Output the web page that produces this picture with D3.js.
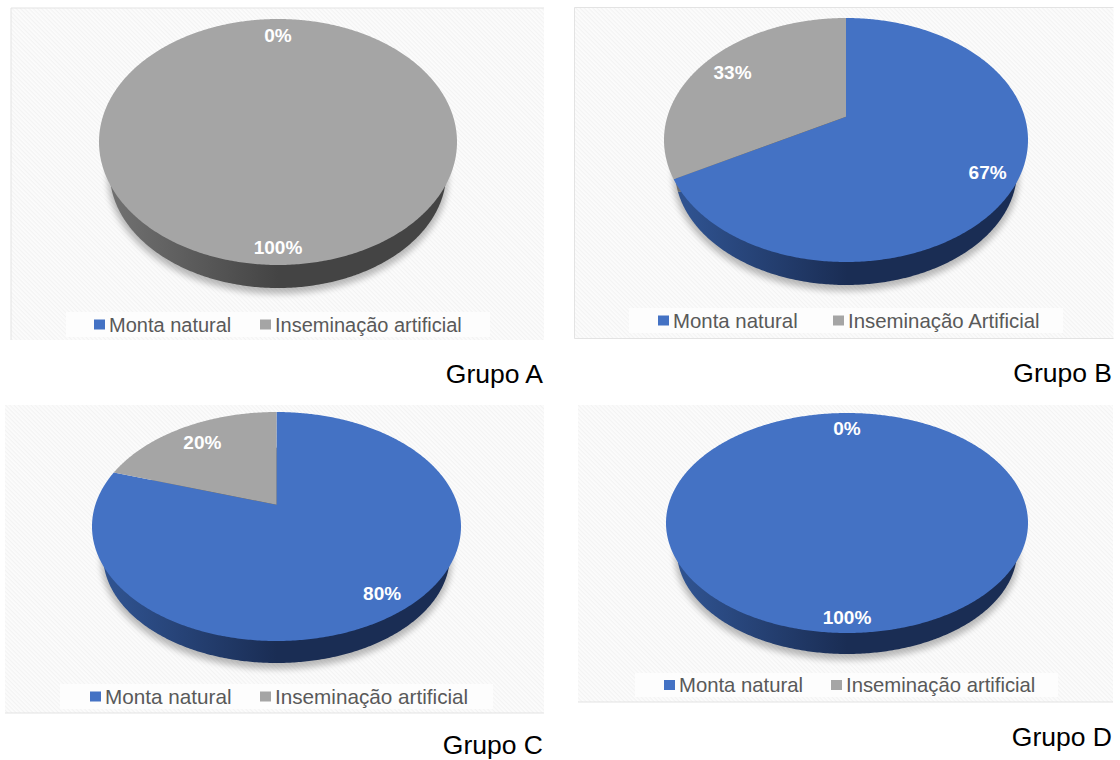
<!DOCTYPE html>
<html>
<head>
<meta charset="utf-8">
<script src="https://cdn.jsdelivr.net/npm/d3@7"></script>
<style>
  html, body { margin: 0; background: #fff; }
  svg { display: block; }
  text { font-family: "Liberation Sans", Arial, sans-serif; }
</style>
</head>
<body>
<svg id="chart" width="1120" height="760"></svg>
<script>
// Reproductive management by group: share of natural mating vs. artificial insemination.
const groups = ["Grupo A", "Grupo B", "Grupo C", "Grupo D"];
const seriesNames = ["Monta natural", "Inseminação artificial"];
const seriesNamesB = ["Monta natural", "Inseminação Artificial"];
const montaNatural = [0, 67, 80, 100];
const inseminacao = [100, 33, 20, 0];

// Drawing geometry of each panel, kept apart from the values.
const panels = [
  { x: 11, y: 8, w: 533, h: 332, edges: "tl", cx: 278, cy: 142, rx: 179, ry: 123, depth: 23,
    legend: { x: 66, y: 312, w: 424, h: 25, s1: 94, s2: 260, font: 20 }, title: { x: 543, y: 383 } },
  { x: 574.5, y: 7.5, w: 539, h: 331, edges: "tlb", cx: 846, cy: 140, rx: 182, ry: 122, depth: 23,
    legend: { x: 629, y: 308, w: 434, h: 25, s1: 658, s2: 833, font: 20.4 }, title: { x: 1112, y: 382 } },
  { x: 5, y: 405, w: 539, h: 308, edges: "b", cx: 276.5, cy: 526.5, rx: 184.5, ry: 114.5, depth: 22,
    legend: { x: 60, y: 684, w: 433, h: 25, s1: 90, s2: 260, font: 20.7 }, title: { x: 543, y: 754 } },
  { x: 578, y: 405, w: 535, h: 297, edges: "b", cx: 847, cy: 523, rx: 181, ry: 110, depth: 21,
    legend: { x: 635, y: 673, w: 423, h: 24, s1: 664, s2: 831, font: 20.3 }, title: { x: 1112, y: 746 } }
];

const svg = d3.select("#chart");
const defs = svg.append("defs");

// Faint diagonal hatch behind each chart.
const hatch = defs.append("pattern")
  .attr("id", "hatch").attr("width", 3).attr("height", 3)
  .attr("patternUnits", "userSpaceOnUse").attr("patternTransform", "rotate(45)");
hatch.append("rect").attr("width", 3).attr("height", 3).attr("fill", "#fcfcfc");
hatch.append("rect").attr("width", 3).attr("height", 1.2).attr("fill", "#f3f3f3");

const shadow = defs.append("filter").attr("id", "pieShadow")
  .attr("x", "-10%").attr("y", "-10%").attr("width", "120%").attr("height", "125%");
shadow.append("feGaussianBlur").attr("stdDeviation", 3.2);

const color = d3.scaleOrdinal().domain(seriesNames).range(["#4472c4", "#a5a5a5"]);

// Side wall shading: lighter on the left, settling to a dark tone.
const wallStops = { "Monta natural": ["#2f528f", "#1a2d54"], "Inseminação artificial": ["#6f6f6f", "#444444"] };
seriesNames.forEach((name, i) => {
  const g = defs.append("linearGradient").attr("id", "wall" + i)
    .attr("x1", 0).attr("x2", 1).attr("y1", 0).attr("y2", 0);
  g.append("stop").attr("offset", "0.03").attr("stop-color", wallStops[name][0]);
  g.append("stop").attr("offset", "0.5").attr("stop-color", wallStops[name][1]);
  g.append("stop").attr("offset", "1").attr("stop-color", wallStops[name][1]);
});

const pieLayout = d3.pie().sort(null).value(d => d.value);
const line = d3.line();
const tilt = 0.19; // perspective strength of the disc

// Projects a point of the unit disc (angle clockwise from the top) onto a tilted plane.
function projector(cx, cy, rx, ry) {
  const sx = rx * Math.sqrt(1 - tilt * tilt);
  const sy = ry * (1 - tilt * tilt);
  const apexY = cy - tilt * ry;
  return (angle, radius) => {
    const u = radius * Math.sin(angle);
    const v = -radius * Math.cos(angle);
    const w = 1 - tilt * v;
    return [cx + sx * u / w, apexY + sy * v / w];
  };
}

function sectorPath(project, a0, a1) {
  const steps = Math.max(2, Math.ceil((a1 - a0) / 0.01));
  const rim = d3.range(steps + 1).map(i => project(a0 + (a1 - a0) * i / steps, 1));
  return line([project(a0, 0), ...rim]) + "Z";
}

// The narrower lower rim needs its seams pushed away from the front,
// so a seam drops straight down from the same seam on the top face.
const wallAngle = a => Math.max(0, Math.min(2 * Math.PI, Math.PI + (a - Math.PI) * 1.12));

// Label distance from the apex, relative to the rim: labels sit closer in at the back.
function labelRadius(d) {
  if (d.value === 100) return 0.9;
  if (d.value === 0) return 0.81;
  return 0.82 - 0.05 * Math.cos((d.startAngle + d.endAngle) / 2);
}

panels.forEach((p, i) => {
  const names = i === 1 ? seriesNamesB : seriesNames;
  const rows = seriesNames.map((name, k) => ({
    name, value: (k === 0 ? montaNatural : inseminacao)[i]
  }));
  const slices = pieLayout(rows);
  const g = svg.append("g").attr("class", "panel");

  g.append("rect").attr("x", p.x).attr("y", p.y).attr("width", p.w).attr("height", p.h)
    .attr("fill", "url(#hatch)");
  const edge = (x1, y1, x2, y2) => g.append("line")
    .attr("x1", x1).attr("y1", y1).attr("x2", x2).attr("y2", y2)
    .attr("stroke", "#e3e3e3").attr("stroke-width", 1);
  if (p.edges.includes("t")) edge(p.x, p.y, p.x + p.w, p.y);
  if (p.edges.includes("l")) edge(p.x, p.y, p.x, p.y + p.h);
  if (p.edges.includes("b")) edge(p.x, p.y + p.h, p.x + p.w, p.y + p.h);

  // The lower rim is slightly narrower than the top face.
  const shrink = 0.94;
  const lowerRy = p.ry * shrink;
  const lowerCy = p.cy + p.ry + p.depth - lowerRy;
  const top = projector(p.cx, p.cy, p.rx, p.ry);
  const bottom = projector(p.cx, lowerCy, p.rx * shrink, lowerRy);

  // Soft shadow cast around the disc.
  g.append("ellipse").attr("cx", p.cx).attr("cy", lowerCy + 5)
    .attr("rx", p.rx * shrink + 2).attr("ry", lowerRy + 1)
    .attr("fill", "#000").attr("opacity", 0.26).attr("filter", "url(#pieShadow)");

  g.selectAll("path.wall").data(slices.filter(d => d.value > 0)).join("path")
    .attr("class", "wall")
    .attr("d", d => sectorPath(bottom, wallAngle(d.startAngle), wallAngle(d.endAngle)))
    .attr("fill", d => `url(#wall${seriesNames.indexOf(d.data.name)})`);

  g.selectAll("path.face").data(slices.filter(d => d.value > 0)).join("path")
    .attr("class", "face")
    .attr("d", d => sectorPath(top, d.startAngle, d.endAngle))
    .attr("fill", d => color(d.data.name));

  g.selectAll("text.value").data(slices).join("text")
    .attr("class", "value")
    .attr("transform", d => {
      const mid = (d.startAngle + d.endAngle) / 2;
      return `translate(${top(mid, labelRadius(d))})`;
    })
    .attr("text-anchor", "middle").attr("dy", "0.36em")
    .attr("font-size", 19).attr("font-weight", 700).attr("fill", "#fff")
    .text(d => d.value + "%");

  // Legend strip
  const l = p.legend;
  g.append("rect").attr("x", l.x).attr("y", l.y).attr("width", l.w).attr("height", l.h).attr("fill", "#fdfdfd");
  names.forEach((name, k) => {
    const sx = k === 0 ? l.s1 : l.s2;
    g.append("rect").attr("x", sx).attr("y", l.y + l.h / 2 - 5).attr("width", 11).attr("height", 10)
      .attr("fill", color(seriesNames[k]));
    g.append("text").attr("x", sx + 15).attr("y", l.y + l.h / 2).attr("dy", "0.35em")
      .attr("font-size", l.font).attr("fill", "#595959").text(name);
  });

  g.append("text").attr("x", p.title.x).attr("y", p.title.y).attr("text-anchor", "end")
    .attr("font-size", 26.5).attr("fill", "#000").text(groups[i]);
});
</script>
</body>
</html>
